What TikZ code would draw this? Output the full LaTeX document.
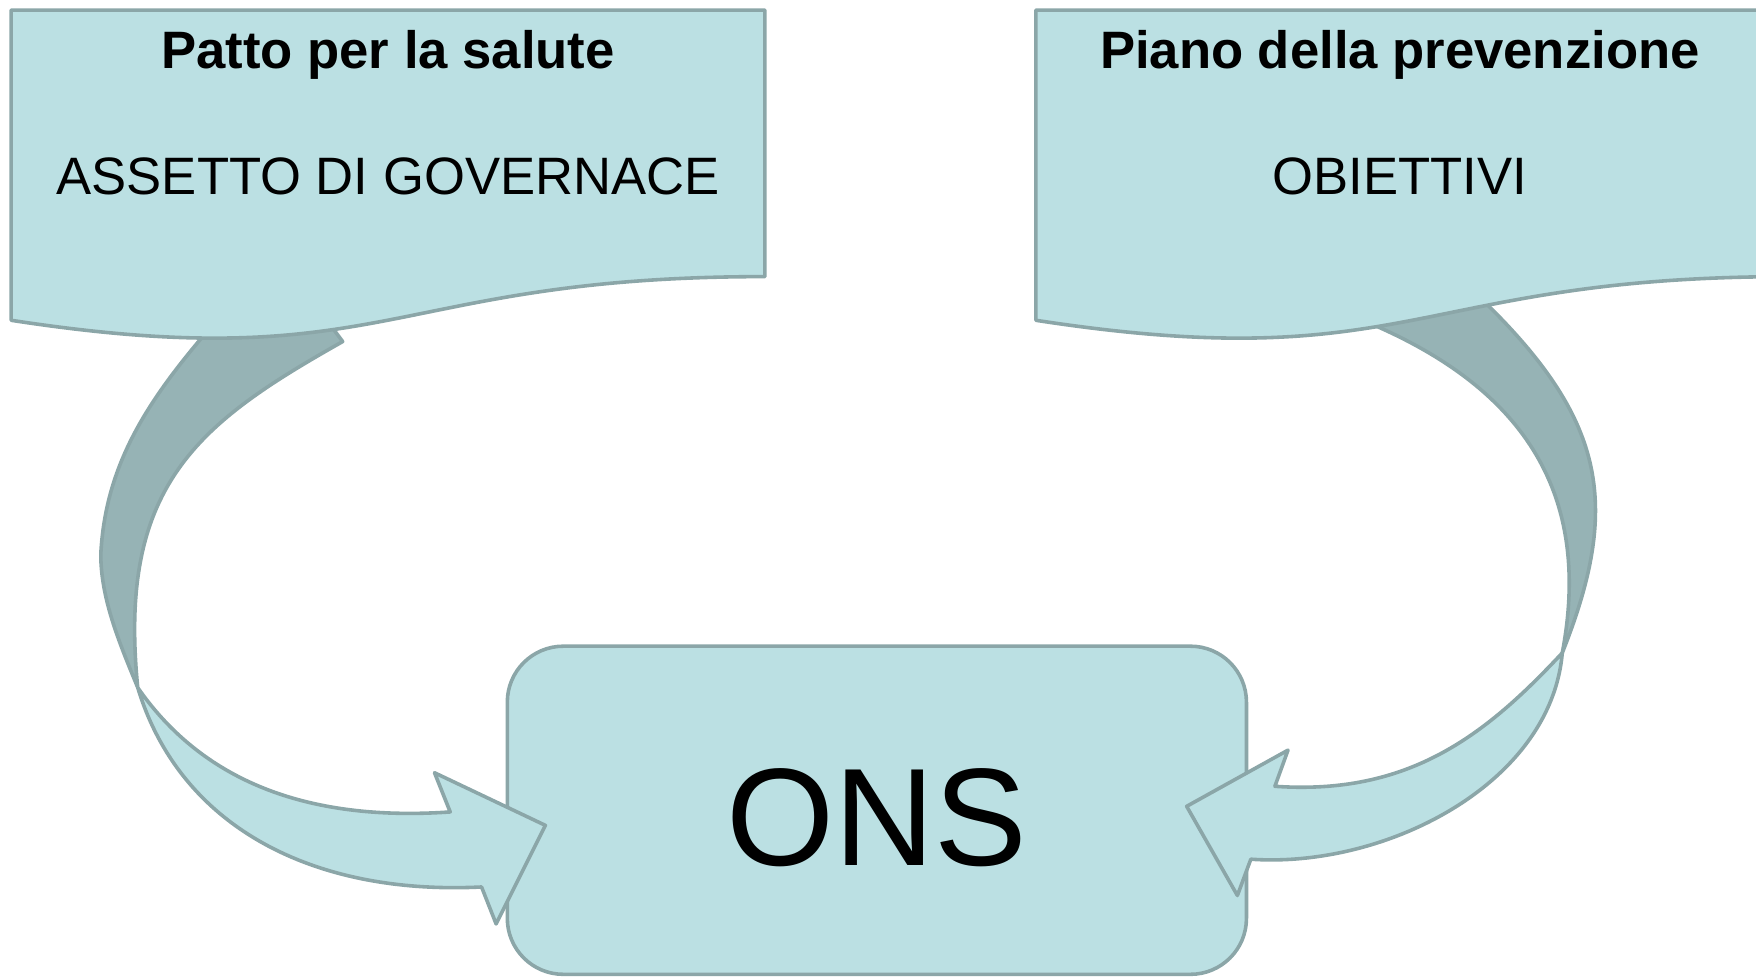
\documentclass[tikz,border=0pt]{standalone}
\usepackage{fontspec}
\setmainfont{Liberation Sans}
\definecolor{paleTeal}{RGB}{187,224,227}
\definecolor{edgeTeal}{RGB}{139,166,168}
\definecolor{shadeTeal}{RGB}{150,179,181}
\begin{document}
\begin{tikzpicture}
[x=0.5pt,y=-0.5pt,
  docDecorate/.style={draw=edgeTeal,fill=paleTeal,line width=1.6pt,line join=round},
  onsDecorate/.style={shape=rectangle,rounded corners=25pt,draw=edgeTeal,fill=paleTeal,
    line width=1.6pt,minimum width=330pt,minimum height=146.5pt,inner sep=0pt,
    text height=49.5pt,text depth=0pt,font=\fontsize{62}{70}\selectfont},
  backDecorate/.style={draw=edgeTeal,fill=shadeTeal,line width=1.6pt,line join=round},
  frontDecorate/.style={draw=edgeTeal,fill=paleTeal,line width=1.6pt,line join=round},
  titleDecorate/.style={anchor=base,inner sep=0pt,font=\bfseries\fontsize{23.5}{28}\selectfont},
  bodyDecorate/.style={anchor=base,inner sep=0pt,font=\fontsize{23.5}{28}\selectfont}]
\useasboundingbox (0,0) rectangle (1568,873);
%% central box
\node (ons) at (783,723.5) [onsDecorate] {ONS};
%% crossing points of the ribbons
\coordinate (lx) at (123,614);
\coordinate (rx) at (1395,583);
%% left curved arrow
\draw[backDecorate] (291,285) -- (306,305)
  .. controls (175.5,378.5) and (105,434) .. (lx)
  .. controls (107,575) and (90,535) .. (90,495)
  .. controls (94,415) and (132,358) .. (184,297) -- cycle;
\draw[frontDecorate] (lx) .. controls (160.7,738.8) and (280,799.5) .. (430,792)
  -- (443,825) -- (487,737) -- (388,690) -- (402,725)
  .. controls (272,734) and (180,696) .. (lx) -- cycle;
%% right curved arrow
\draw[backDecorate] (1215,285) -- (1233,293)
  .. controls (1351.3,346.3) and (1423.5,433) .. (rx)
  .. controls (1446.8,452.8) and (1434.5,377) .. (1328,272) -- (1322,262) -- cycle;
\draw[frontDecorate] (rx) .. controls (1327,656) and (1258.4,710.5) .. (1138.4,702.1)
  -- (1150.1,669.8) -- (1059.6,720) -- (1104.9,799.6) -- (1116.9,767.2)
  .. controls (1236.9,775.6) and (1385,700) .. (rx) -- cycle;
%% document boxes
\foreach \name/\x/\cx/\title/\body in {
  patto/10/346.5/Patto per la salute/ASSETTO DI GOVERNACE,
  piano/925/1250/Piano della prevenzione/OBIETTIVI}
{
  \draw[docDecorate] (\x,9) -- ({\x+673},9) -- ({\x+673},247)
    .. controls ({\x+336.5},247) and ({\x+336.5},337.7) .. (\x,286) -- cycle;
  \node (\name-title) at (\cx,61) [titleDecorate] {\title};
  \node (\name-body) at (\cx,174) [bodyDecorate] {\body};
}
\end{tikzpicture}
\end{document}
